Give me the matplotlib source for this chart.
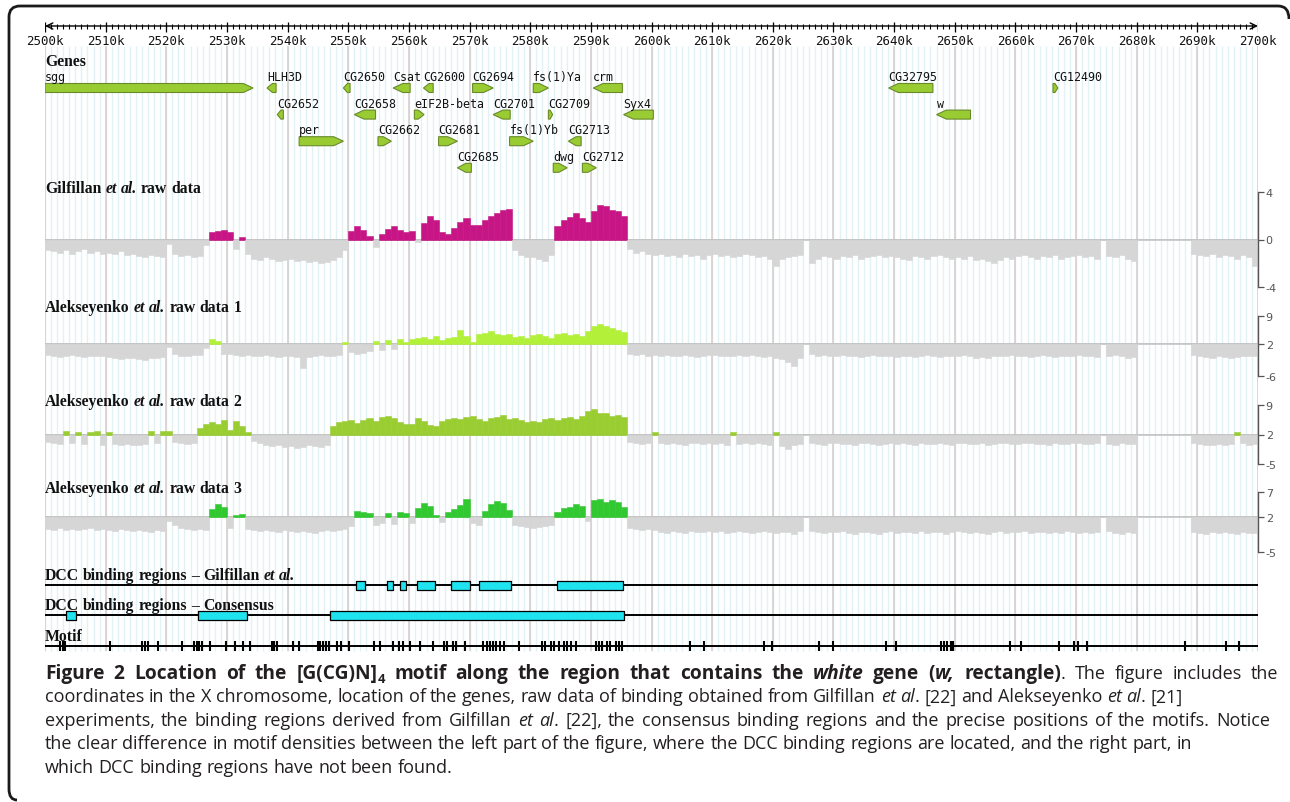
import numpy as np
import matplotlib
matplotlib.use("Agg")
import matplotlib.pyplot as plt
from matplotlib.path import Path
from matplotlib.patches import PathPatch, Polygon
import matplotlib.transforms as mtransforms

W, H = 1290, 803
X0, X1 = 45, 1258          # pixel span of the 2500k..2700k window

# ---------------- data ----------------
region = (2500, 2700)
ruler_major = list(range(2500, 2701, 10))
bins = np.arange(2500, 2700)   # 1 kb bins of the raw-data tracks

gene_names = ["sgg", "HLH3D", "CG2650", "Csat", "CG2600", "CG2694", "fs(1)Ya", "crm", "CG32795", "CG12490",
              "CG2652", "CG2658", "eIF2B-beta", "CG2701", "CG2709", "Syx4", "w",
              "per", "CG2662", "CG2681", "fs(1)Yb", "CG2713",
              "CG2685", "dwg", "CG2712"]
gene_start = [2500.0, 2536.6, 2549.2, 2557.4, 2562.4, 2570.5, 2580.5, 2590.4, 2639.1, 2666.2,
              2538.3, 2551.0, 2560.9, 2573.9, 2583.0, 2595.4, 2647.0,
              2541.9, 2554.9, 2564.9, 2576.6, 2586.3,
              2568.0, 2583.8, 2588.6]
gene_end = [2534.3, 2538.1, 2550.3, 2560.2, 2564.0, 2573.9, 2583.0, 2595.2, 2646.4, 2667.0,
            2539.3, 2554.5, 2562.5, 2576.7, 2583.7, 2600.3, 2652.6,
            2549.2, 2557.1, 2568.0, 2580.5, 2588.4,
            2570.3, 2586.1, 2590.9]
gene_strand = ["+", "-", "-", "-", "-", "+", "+", "-", "-", "+",
               "-", "-", "+", "-", "+", "-", "-",
               "+", "+", "+", "+", "-",
               "-", "+", "+"]
gene_row = [0] * 10 + [1] * 7 + [2] * 5 + [3] * 3

# Gilfillan et al. raw data (one value per kb, 2500k..2699k)
gil_signal = [
    -0.9, -1.0, -1.1, -0.9, -1.2, -1.0, -0.8, -1.1, -1.0, -1.2,
    -1.1, -1.2, -1.0, -1.3, -1.2, -1.4, -1.5, -1.3, -1.4, -1.5,
    -0.4, -1.2, -1.4, -1.3, -1.5, -1.4, -0.5, 0.6, 0.7, 0.8,
    0.6, -0.8, 0.2, -1.2, -1.6, -1.7, -1.5, -1.6, -1.8, -1.7,
    -1.6, -1.8, -1.7, -1.9, -1.8, -2.0, -1.9, -1.7, -1.5, -0.9,
    0.7, 1.1, 0.8, 0.3, -0.6, 0.5, 0.9, 1.1, 0.8, 0.6,
    0.7, -0.2, 1.4, 2.0, 1.6, 0.6, 0.5, 1.0, 1.5, 1.8,
    1.2, 1.2, 1.6, 2.0, 2.2, 2.5, 2.6, -0.9, -1.3, -1.5,
    -1.5, -1.6, -1.8, -1.3, 1.1, 1.6, 1.9, 2.2, 1.8, 1.5,
    2.4, 2.9, 2.8, 2.5, 2.4, 2.0, -0.8, -1.1, -1.0, -1.2,
    -1.3, -1.2, -1.4, -1.3, -1.5, -1.2, -1.4, -1.3, -1.6, -1.3,
    -1.2, -1.4, -1.3, -1.5, -1.4, -1.2, -1.3, -1.5, -1.4, -1.6,
    -2.2, -1.6, -1.5, -1.4, -1.3, 0.0, -2.0, -1.6, -1.4, -1.5,
    -1.6, -1.4, -1.5, -1.3, -1.6, -1.5, -1.4, -1.3, -1.5, -1.4,
    -1.5, -1.6, -1.7, -1.4, -1.5, -1.6, -1.4, -1.3, -1.5, -1.6,
    -1.5, -1.6, -1.4, -1.7, -1.6, -1.8, -2.0, -1.7, -1.5, -1.6,
    -1.4, -1.3, -1.5, -1.6, -1.4, -1.5, -1.3, -1.6, -1.5, -1.4,
    -1.3, -1.5, -1.4, -1.6, 0.0, -1.4, -1.5, -1.3, -1.6, -1.8,
    0.0, 0.0, 0.0, 0.0, 0.0, 0.0, 0.0, 0.0, 0.0, -1.2,
    -1.3, -1.4, -1.2, -1.5, -1.3, -1.4, -1.6, -1.3, -1.5, -2.2,
]

# Alekseyenko et al. raw data, signal relative to the track baseline (2)
alek1_signal = [
    -2.8, -3.0, -3.2, -3.0, -2.8, -3.0, -3.3, -3.0, -2.9, -3.1,
    -3.2, -3.5, -3.8, -3.6, -3.4, -3.7, -3.9, -3.6, -3.5, -3.3,
    -0.8, -2.6, -2.9, -3.0, -2.7, -2.8, -1.0, 1.3, 0.8, -2.5,
    -2.6, -2.8, -3.0, -2.7, -2.9, -3.1, -2.8, -3.0, -3.2, -2.9,
    -3.0, -3.2, -6.0, -3.3, -3.0, -2.8, -3.1, -2.9, -2.7, 0.5,
    -2.0, -2.4, -2.2, -1.8, 0.8, -1.5, 1.0, -1.2, 1.2, 0.5,
    1.3, 1.5, 1.8, 1.2, 2.0, 1.0, 1.6, 1.8, 3.5, 2.0,
    0.5, 2.5, 2.8, 3.2, 2.6, 2.2, 2.4, 1.8, 2.0, 1.5,
    2.2, 2.6, 2.0, 1.6, 2.4, 2.8, 2.2, 2.5, 2.0, 3.2,
    4.5, 5.0, 4.6, 4.0, 3.6, 3.0, -2.5, -2.8, -2.6, -3.0,
    -2.8, -3.0, -2.7, -2.9, -3.1, -2.8, -3.0, -3.2, -2.9, -2.7,
    -2.8, -3.0, -2.9, -3.1, -2.8, -3.0, -2.7, -2.9, -3.2, -3.0,
    -3.4, -3.8, -4.5, -5.5, -3.6, 0.0, -2.6, -3.0, -2.8, -2.9,
    -3.0, -2.8, -3.1, -2.9, -3.2, -3.0, -2.8, -3.1, -2.9, -3.0,
    -3.2, -2.9, -3.0, -3.3, -3.1, -2.8, -3.0, -3.2, -2.9, -3.1,
    -3.0, -2.8, -3.1, -3.4, -3.2, -3.5, -3.1, -2.9, -3.0, -2.8,
    -3.0, -2.9, -3.2, -3.0, -2.8, -3.1, -3.3, -3.0, -2.9, -3.1,
    -2.8, -3.0, -2.9, -3.2, 0.0, -3.0, -2.8, -3.1, -3.4, -3.2,
    0.0, 0.0, 0.0, 0.0, 0.0, 0.0, 0.0, 0.0, 0.0, -2.8,
    -3.0, -3.2, -3.4, -3.1, -3.3, -3.5, -3.2, -3.0, -2.9, -3.1,
]
alek2_signal = [
    -1.8, -2.0, -2.2, 0.8, -2.0, 0.7, -2.3, 0.6, 0.9, -2.4,
    0.7, -2.2, -2.5, -2.3, -2.6, -2.4, -2.2, 0.8, -2.0, 0.9,
    0.8, -1.8, -2.0, -2.3, -2.1, 1.5, 2.4, 3.0, 2.6, 3.4,
    1.0, 3.2, 2.0, 0.5, -1.6, -2.0, -2.4, -2.8, -2.6, -3.0,
    -2.8, -3.2, -2.9, -2.6, -2.8, -3.0, -2.4, 2.0, 3.0, 3.2,
    3.5, 2.8, 3.4, 3.8, 3.2, 4.2, 4.5, 3.8, 3.0, 2.6,
    2.5, 3.8, 3.2, 2.2, 2.0, 3.3, 3.6, 4.0, 3.6, 4.2,
    4.4, 3.6, 3.2, 3.8, 4.2, 4.6, 3.6, 3.8, 3.4, 3.0,
    3.2, 3.0, 3.6, 3.8, 3.4, 4.0, 4.2, 3.6, 4.4, 5.6,
    6.0, 5.2, 5.0, 4.4, 4.6, 4.2, -1.8, -2.0, -2.2, -1.9,
    0.5, -2.1, -2.3, -2.0, -2.2, -2.4, -2.1, -1.9, -2.2, -2.0,
    -2.3, -2.1, -2.4, 0.5, -2.2, -2.0, -2.3, -2.1, -2.2, -2.5,
    0.5, -2.8, -3.4, -2.6, -2.2, 0.0, -2.0, -2.2, -2.4, -2.1,
    -2.0, -2.3, -2.2, -2.4, -2.1, -2.0, -2.3, -2.5, -2.2, -2.0,
    -2.2, -2.1, -2.3, -2.4, -2.0, -2.2, -2.3, -2.1, -2.2, -2.4,
    -2.1, -2.0, -2.2, -2.3, -2.1, -2.4, -2.2, -2.0, -2.1, -2.3,
    -2.2, -2.0, -2.1, -2.3, -2.2, -2.4, -2.1, -2.3, -2.2, -2.0,
    -2.1, -2.3, -2.2, -2.0, 0.0, -2.2, -2.4, -2.1, -2.3, -2.2,
    0.0, 0.0, 0.0, 0.0, 0.0, 0.0, 0.0, 0.0, 0.0, -2.0,
    -2.3, -2.5, -2.4, -2.2, -2.6, -2.3, 0.5, -2.1, -2.4, -2.2,
]
alek3_signal = [
    -2.4, -2.6, -2.2, -2.5, -2.3, -2.6, -2.4, -2.2, -2.5, -2.3,
    -2.5, -2.7, -2.4, -2.6, -2.8, -2.5, -2.7, -2.9, -2.6, -2.8,
    -0.8, -1.5, -2.2, -2.4, -2.6, -2.3, -2.5, 1.6, 2.6, 2.0,
    -2.2, 0.4, 0.6, -2.4, -2.6, -2.8, -2.5, -2.7, -2.9, -2.6,
    -2.8, -3.0, -2.7, -2.9, -3.1, -2.8, -2.6, -2.8, -2.5, -2.3,
    -1.8, 1.2, 1.0, 0.8, -1.5, -1.2, 0.8, -1.4, 1.0, 0.8,
    -1.2, 1.8, 2.8, 2.2, 0.5, -1.0, 1.0, 1.6, 2.4, 3.6,
    -1.2, -1.5, 1.2, 2.6, 3.2, 2.8, 1.4, -1.6, -1.8, -2.0,
    -2.2, -2.0, -1.8, -1.5, 1.0, 1.8, 2.0, 2.6, 2.2, -0.8,
    3.4, 3.6, 3.0, 3.4, 3.0, 2.0, -2.2, -2.4, -2.6, -2.3,
    -2.6, -2.9, -3.1, -2.8, -3.0, -3.2, -2.7, -2.9, -3.0, -2.8,
    -3.0, -2.8, -3.1, -2.9, -2.7, -3.0, -3.2, -2.9, -2.8, -3.0,
    -3.1, -2.9, -3.0, -3.3, -2.8, 0.0, -2.7, -3.0, -3.2, -2.9,
    -3.0, -2.8, -3.1, -3.3, -3.0, -2.9, -3.2, -3.4, -3.0, -2.8,
    -3.1, -2.9, -3.0, -3.2, -2.8, -3.1, -3.0, -2.9, -3.3, -3.0,
    -2.8, -3.0, -3.2, -2.9, -3.1, -3.4, -3.0, -2.8, -3.1, -2.9,
    -3.0, -2.8, -3.1, -2.9, -3.0, -3.2, -2.9, -3.1, -2.8, -3.0,
    -3.1, -2.9, -3.2, -3.0, 0.0, -2.8, -3.1, -3.3, -3.0, -3.2,
    0.0, 0.0, 0.0, 0.0, 0.0, 0.0, 0.0, 0.0, 0.0, -2.9,
    -3.1, -3.3, -3.0, -3.2, -2.9, -3.1, -3.4, -3.0, -3.2, -3.1,
]

gil_dcc_start = [2551.3, 2556.4, 2558.5, 2561.3, 2567.0, 2571.5, 2584.5]
gil_dcc_end = [2552.8, 2557.4, 2559.5, 2564.3, 2570.0, 2576.8, 2595.3]
cons_dcc_start = [2503.5, 2525.2, 2547.0]
cons_dcc_end = [2505.1, 2533.3, 2595.5]

motif_pos = [2502.5, 2503.0, 2503.3, 2510.7, 2516.0, 2516.5, 2517.0, 2518.6, 2522.6, 2524.6,
             2525.1, 2525.4, 2525.9, 2527.2, 2529.9, 2531.4, 2532.7, 2533.8, 2537.5, 2537.8,
             2538.3, 2540.9, 2541.9, 2545.0, 2545.4, 2545.9, 2546.4, 2546.9, 2548.2, 2548.8,
             2550.2, 2554.3, 2555.3, 2557.3, 2558.4, 2559.1, 2560.2, 2561.9, 2564.0, 2565.8,
             2566.3, 2567.2, 2567.7, 2569.3, 2572.3, 2572.9, 2573.4, 2573.9, 2574.4, 2575.1,
             2575.7, 2578.1, 2582.0, 2582.5, 2583.5, 2584.0, 2584.7, 2585.5, 2586.1, 2586.8,
             2587.5, 2590.8, 2591.3, 2591.9, 2592.6, 2593.2, 2594.1, 2594.7, 2595.2,
             2606.4, 2608.7, 2618.6, 2619.8, 2627.6, 2630.0, 2638.6, 2640.3, 2647.7, 2648.2,
             2648.8, 2649.3, 2649.7, 2659.1, 2660.9, 2667.2, 2669.6, 2670.3, 2671.8, 2688.0,
             2694.7, 2696.9]

# ---------------- figure ----------------
fig = plt.figure(figsize=(W / 100, H / 100), dpi=100)
renderer = fig.canvas.get_renderer()

# overlay axes: x in kb, y in pixel rows (top = 0)
ax = fig.add_axes([X0 / W, 0, (X1 - X0) / W, 1])
ax.set_xlim(*region)
ax.set_ylim(H, 0)
ax.axis("off")

# grid
ax.vlines(np.arange(2500, 2701, 1), 47, 652, color="#e1f1f6", lw=1, zorder=0)
ax.vlines(ruler_major, 47, 652, color="#d4cccc", lw=1.1, zorder=0.5)

# ruler
ax.annotate("", xy=(2700, 27), xytext=(2500, 27), annotation_clip=False,
            arrowprops=dict(arrowstyle="<->,head_length=0.45,head_width=0.22",
                            lw=1, color="black", shrinkA=0, shrinkB=0))
ax.vlines(np.arange(2501, 2700), 24.5, 29.5, color="black", lw=0.8)
ax.vlines(ruler_major, 23, 33, color="black", lw=0.9)
for k in ruler_major:
    ax.text(k, 45, f"{k}k", ha="center", va="baseline", family="DejaVu Sans Mono",
            size=9, color="#111111")

# genes
for name, s, e, st, r in zip(gene_names, gene_start, gene_end, gene_strand, gene_row):
    yc = 89 + r * 26.6
    h = 4.5
    head = min(1.6, 0.6 * (e - s))
    if st == "+":
        pts = [(s, yc - h), (e - head, yc - h), (e, yc), (e - head, yc + h), (s, yc + h)]
    else:
        pts = [(e, yc - h), (s + head, yc - h), (s, yc), (s + head, yc + h), (e, yc + h)]
    ax.add_patch(Polygon(pts, closed=True, fc="#99cc33", ec="#6a8a2a", lw=0.8, zorder=3))
    ax.text(s, yc - 8, name, ha="left", va="baseline", family="DejaVu Sans Mono",
            size=8.4, color="#111111")

# raw data tracks
tracks = [
    (gil_signal, 0, (-4, 4), [-4, 0, 4], 193, 288, "#c71585"),
    (alek1_signal, 2, (-6, 9), [-6, 2, 9], 317, 377, "#b2f03a"),
    (alek2_signal, 2, (-5, 9), [-5, 2, 9], 406, 465, "#9acd32"),
    (alek3_signal, 2, (-5, 7), [-5, 2, 7], 493, 553, "#32c832"),
]
for sig, base, lim, ticks, top, bot, col in tracks:
    ta = fig.add_axes([X0 / W, 1 - bot / H, (X1 - X0) / W, (bot - top) / H])
    ta.set_xlim(*region)
    ta.set_ylim(*lim)
    ta.patch.set_alpha(0)
    sig = np.asarray(sig)
    cols = np.where(sig > 0, col, "#d6d6d6")
    ta.axhline(base, color="#c4c4c4", lw=1.4, zorder=1)
    ta.bar(bins, sig, bottom=base, width=1, align="edge", color=cols,
           edgecolor=cols, lw=0.4, zorder=2)
    for sp in ["top", "left", "bottom"]:
        ta.spines[sp].set_visible(False)
    ta.spines["right"].set_color("#555555")
    ta.spines["right"].set_linewidth(1)
    ta.set_xticks([])
    ta.yaxis.tick_right()
    ta.set_yticks(ticks)
    ta.set_yticklabels([str(t) for t in ticks])
    ta.tick_params(axis="y", length=4, width=0.9, color="#555555",
                   labelcolor="#555555", labelsize=8, pad=1.5)

# DCC binding regions
ax.hlines([586, 616], 2500, 2700, color="black", lw=1.4, zorder=2)
ax.broken_barh(list(zip(gil_dcc_start, np.subtract(gil_dcc_end, gil_dcc_start))),
               (581.5, 9.5), fc="#1fe3ee", ec="black", lw=0.9, zorder=3)
ax.broken_barh(list(zip(cons_dcc_start, np.subtract(cons_dcc_end, cons_dcc_start))),
               (611.5, 9.5), fc="#1fe3ee", ec="black", lw=0.9, zorder=3)

# motif
ax.hlines(647, 2500, 2700, color="black", lw=1.4, zorder=2)
ax.vlines(motif_pos, 642, 652, color="black", lw=1.5, zorder=3)


# ---------------- text helpers ----------------
def measure(s, prop):
    t = fig.text(0, 0, s, **prop)
    w = t.get_window_extent(renderer).width
    t.remove()
    return w


def put_runs(x, y, runs, width=None):
    # x, y in pixels from the top-left corner, y is the baseline;
    # with width given, the spaces are stretched so the line fills it
    tokens = []
    for run in runs:
        s, prop = run[0], run[1]
        dy = run[2] if len(run) > 2 else 0
        sw = measure("x x", prop) - measure("xx", prop)
        for i, p in enumerate(s.split(" ")):
            if i > 0:
                tokens.append((None, sw, prop, dy))
            if p:
                tokens.append((p, measure(p, prop), prop, dy))
    extra = 0
    if width is not None:
        n_sp = sum(1 for t in tokens if t[0] is None)
        extra = (width - sum(t[1] for t in tokens)) / max(n_sp, 1)
    for p, w, prop, dy in tokens:
        if p is None:
            x += w + extra
        else:
            fig.text(x / W, 1 - (y + dy) / H, p, ha="left", va="baseline", **prop)
            x += w
    return x


lab = dict(family="Liberation Serif", weight="bold", size=11.3, color="#111111")
lab_i = dict(lab, style="italic")

put_runs(45, 66, [("Genes", lab)])
put_runs(45, 193, [("Gilfillan ", lab), ("et al.", lab_i), (" raw data", lab)])
put_runs(45, 312, [("Alekseyenko ", lab), ("et al.", lab_i), (" raw data 1", lab)])
put_runs(45, 406, [("Alekseyenko ", lab), ("et al.", lab_i), (" raw data 2", lab)])
put_runs(45, 493, [("Alekseyenko ", lab), ("et al.", lab_i), (" raw data 3", lab)])
put_runs(45, 580, [("DCC binding regions \u2013 Gilfillan ", lab), ("et al.", lab_i)])
put_runs(45, 610, [("DCC binding regions \u2013 Consensus", lab)])
put_runs(45, 641, [("Motif", lab)])

# caption
cs = 13
cap_r = dict(family="Open Sans", size=cs, color="#231f20")
cap_i = dict(cap_r, style="italic")
cap_b = dict(cap_r, weight="bold", size=cs * 1.06)
cap_bi = dict(cap_b, style="italic")
cap_sub = dict(cap_b, size=cs * 0.72)

caption = [
    [("Figure 2 Location of the [G(CG)N]", cap_b), ("4", cap_sub, 4),
     (" motif along the region that contains the ", cap_b), ("white", cap_bi),
     (" gene (", cap_b), ("w,", cap_bi), (" rectangle)", cap_b),
     (". The figure includes the", cap_r)],
    [("coordinates in the X chromosome, location of the genes, raw data of binding obtained from Gilfillan ", cap_r),
     ("et al", cap_i), (". [22] and Alekseyenko ", cap_r), ("et al", cap_i), (". [21]", cap_r)],
    [("experiments, the binding regions derived from Gilfillan ", cap_r), ("et al", cap_i),
     (". [22], the consensus binding regions and the precise positions of the motifs. Notice", cap_r)],
    [("the clear difference in motif densities between the left part of the figure, where the DCC binding regions are located, and the right part, in", cap_r)],
    [("which DCC binding regions have not been found.", cap_r)],
]
cap_width = [1233, None, 1225, None, None]
for i, line in enumerate(caption):
    put_runs(45, 679 + i * 23.5, line, cap_width[i])

# rounded frame
verts = [(1289, 20), (1289, 7), (1278, 7), (20, 7), (9, 7), (9, 18), (9, 790), (9, 801), (17, 801)]
codes = [Path.MOVETO, Path.CURVE3, Path.CURVE3, Path.LINETO, Path.CURVE3, Path.CURVE3,
         Path.LINETO, Path.CURVE3, Path.CURVE3]
px = mtransforms.Affine2D().scale(1 / W, -1 / H).translate(0, 1) + fig.transFigure
fig.patches.append(PathPatch(Path(verts, codes), fc="none", ec="#1a1a1a", lw=2, transform=px))

fig.savefig("out.png", dpi=100)
